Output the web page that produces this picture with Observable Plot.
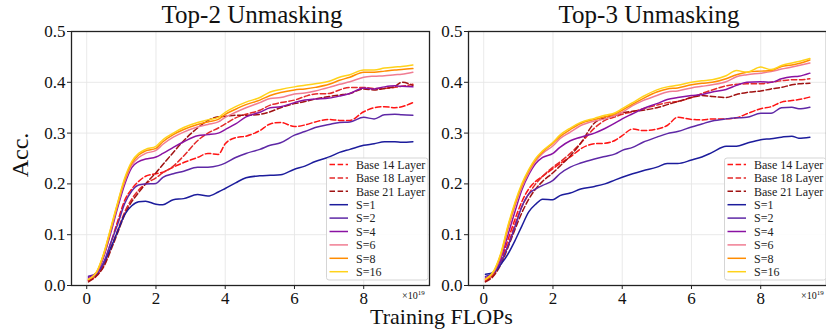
<!DOCTYPE html>
<html><head><meta charset="utf-8">
<script src="https://cdn.jsdelivr.net/npm/d3@7"></script>
<script src="https://cdn.jsdelivr.net/npm/@observablehq/plot@0.6"></script>
<style>
body{margin:0;background:#fff;}
#fig{position:relative;width:826px;height:329px;overflow:hidden;background:#fff;}
#overlay{position:absolute;left:0;top:0;pointer-events:none;}
</style></head><body><div id="fig"></div>
<script>
// ---- data ----
const flops = [0.05,0.3,0.5,0.7,0.9,1.1,1.3,1.5,1.7,2.0,2.2,2.5,2.8,3.2,3.5,3.8,4.0,4.3,4.6,5.0,5.3,5.6,6.0,6.3,6.6,7.0,7.3,7.6,8.0,8.3,8.6,8.9,9.1,9.42];
const xTicks = [0,2,4,6,8];
const yTicks = [0,0.1,0.2,0.3,0.4,0.5];
const seriesNames = ["Base 14 Layer","Base 18 Layer","Base 21 Layer","S=1","S=2","S=4","S=6","S=8","S=16"];
const seriesColors = ["#ff1414","#e42a2a","#a01212","#1c1c9c","#5e28a6","#8a12a2","#f07c92","#ff8c00","#ffd21a"];
const seriesDashed = [true,true,true,false,false,false,false,false,false];
const panelTitles = ["Top-2 Unmasking","Top-3 Unmasking"];

// Top-2
const top2_base14 = [0.010,0.022,0.045,0.085,0.128,0.168,0.190,0.205,0.215,0.220,0.223,0.233,0.242,0.252,0.260,0.258,0.279,0.291,0.294,0.305,0.318,0.321,0.313,0.316,0.322,0.327,0.325,0.325,0.342,0.350,0.352,0.350,0.352,0.360];
const top2_base18 = [0.010,0.020,0.040,0.075,0.110,0.145,0.170,0.188,0.200,0.212,0.222,0.235,0.255,0.285,0.300,0.310,0.318,0.330,0.337,0.345,0.355,0.360,0.365,0.372,0.377,0.378,0.385,0.390,0.390,0.388,0.388,0.390,0.392,0.396];
const top2_base21 = [0.007,0.020,0.038,0.070,0.105,0.140,0.165,0.183,0.200,0.222,0.238,0.262,0.285,0.310,0.325,0.332,0.333,0.335,0.335,0.337,0.342,0.350,0.358,0.362,0.367,0.372,0.375,0.378,0.387,0.385,0.388,0.392,0.400,0.394];
const top2_s1  = [0.013,0.024,0.045,0.075,0.108,0.140,0.157,0.165,0.166,0.160,0.159,0.169,0.171,0.179,0.176,0.184,0.191,0.202,0.212,0.216,0.217,0.218,0.229,0.235,0.244,0.253,0.262,0.268,0.276,0.279,0.283,0.283,0.282,0.283];
const top2_s2  = [0.018,0.025,0.047,0.085,0.122,0.162,0.186,0.198,0.200,0.201,0.213,0.220,0.225,0.233,0.233,0.236,0.241,0.252,0.260,0.268,0.276,0.281,0.296,0.303,0.311,0.317,0.321,0.322,0.331,0.328,0.336,0.337,0.336,0.335];
const top2_s4  = [0.016,0.026,0.058,0.105,0.155,0.200,0.232,0.244,0.249,0.253,0.260,0.272,0.283,0.295,0.297,0.300,0.307,0.318,0.332,0.341,0.350,0.352,0.360,0.365,0.367,0.369,0.373,0.378,0.389,0.387,0.391,0.393,0.392,0.391];
const top2_s6  = [0.013,0.027,0.062,0.110,0.160,0.205,0.237,0.252,0.260,0.266,0.278,0.292,0.302,0.312,0.317,0.322,0.331,0.341,0.350,0.360,0.368,0.370,0.377,0.379,0.383,0.390,0.396,0.401,0.410,0.412,0.413,0.415,0.416,0.420];
const top2_s8  = [0.012,0.028,0.064,0.113,0.163,0.209,0.241,0.257,0.265,0.270,0.283,0.297,0.307,0.317,0.322,0.327,0.337,0.347,0.356,0.365,0.374,0.380,0.385,0.387,0.390,0.396,0.404,0.410,0.420,0.420,0.422,0.424,0.425,0.427];
const top2_s16 = [0.012,0.029,0.065,0.115,0.165,0.212,0.244,0.260,0.268,0.274,0.287,0.300,0.311,0.321,0.326,0.331,0.341,0.352,0.361,0.370,0.381,0.386,0.391,0.394,0.397,0.402,0.410,0.415,0.424,0.424,0.428,0.430,0.431,0.434];

// Top-3
const top3_base14 = [0.008,0.024,0.050,0.090,0.130,0.165,0.190,0.205,0.215,0.230,0.240,0.253,0.269,0.279,0.280,0.286,0.295,0.308,0.305,0.308,0.315,0.331,0.327,0.326,0.328,0.328,0.330,0.338,0.348,0.352,0.361,0.364,0.366,0.371];
const top3_base18 = [0.010,0.022,0.045,0.080,0.120,0.155,0.180,0.200,0.215,0.233,0.243,0.260,0.280,0.310,0.325,0.332,0.337,0.342,0.348,0.355,0.360,0.362,0.370,0.378,0.385,0.393,0.396,0.397,0.397,0.400,0.403,0.405,0.405,0.407];
const top3_base21 = [0.007,0.020,0.042,0.075,0.110,0.143,0.170,0.190,0.205,0.222,0.235,0.255,0.280,0.320,0.330,0.335,0.340,0.343,0.345,0.350,0.356,0.362,0.370,0.374,0.372,0.370,0.376,0.380,0.383,0.387,0.390,0.395,0.397,0.398];
const top3_s1  = [0.022,0.026,0.042,0.062,0.088,0.117,0.145,0.160,0.170,0.169,0.177,0.182,0.190,0.195,0.200,0.208,0.213,0.220,0.226,0.233,0.240,0.240,0.247,0.253,0.262,0.274,0.274,0.280,0.287,0.289,0.292,0.294,0.290,0.292];
const top3_s2  = [0.018,0.026,0.047,0.078,0.115,0.155,0.180,0.190,0.197,0.207,0.220,0.233,0.241,0.249,0.254,0.259,0.266,0.272,0.282,0.292,0.299,0.303,0.312,0.318,0.324,0.328,0.330,0.331,0.339,0.339,0.350,0.351,0.348,0.351];
const top3_s4  = [0.015,0.027,0.055,0.100,0.145,0.188,0.218,0.240,0.252,0.260,0.272,0.285,0.292,0.300,0.309,0.320,0.328,0.338,0.348,0.358,0.366,0.370,0.374,0.376,0.381,0.386,0.394,0.400,0.401,0.400,0.407,0.411,0.412,0.418];
const top3_s6  = [0.013,0.028,0.060,0.110,0.155,0.193,0.222,0.245,0.260,0.275,0.289,0.302,0.315,0.324,0.328,0.335,0.341,0.354,0.364,0.374,0.381,0.383,0.389,0.392,0.395,0.401,0.411,0.415,0.418,0.421,0.426,0.430,0.433,0.438];
const top3_s8  = [0.012,0.029,0.063,0.115,0.160,0.197,0.226,0.248,0.263,0.280,0.293,0.307,0.319,0.327,0.332,0.338,0.345,0.357,0.368,0.381,0.387,0.389,0.395,0.398,0.400,0.407,0.415,0.420,0.422,0.423,0.431,0.434,0.437,0.444];
const top3_s16 = [0.012,0.030,0.065,0.118,0.163,0.200,0.228,0.250,0.265,0.282,0.296,0.310,0.321,0.329,0.335,0.340,0.348,0.360,0.372,0.385,0.391,0.394,0.400,0.403,0.405,0.413,0.423,0.420,0.430,0.425,0.433,0.438,0.441,0.447];

const panels = [
  [top2_base14,top2_base18,top2_base21,top2_s1,top2_s2,top2_s4,top2_s6,top2_s8,top2_s16],
  [top3_base14,top3_base18,top3_base21,top3_s1,top3_s2,top3_s4,top3_s6,top3_s8,top3_s16]
];

// ---- layout ----
const FONT = "Liberation Serif";
const fig = document.getElementById("fig");
const panelLeft = [0, 397];
const W = 430, H = 329, ML = 71, MR = 1, MT = 31, MB = 44;

panels.forEach((vals, p) => {
  const lineMarks = vals.map((arr, i) => {
    const rows = flops.map((x, j) => ({x, y: arr[j]}));
    return Plot.line(rows, {
      x: "x", y: "y",
      stroke: seriesColors[i], strokeWidth: 1.5,
      strokeDasharray: seriesDashed[i] ? "5.5,2.6" : null,
      curve: "monotone-x"
    });
  });
  const chart = Plot.plot({
    width: W, height: H,
    marginLeft: ML, marginRight: MR, marginTop: MT, marginBottom: MB,
    x: {domain: [-0.44, 9.9]},
    y: {domain: [0, 0.5]},
    style: {fontFamily: FONT, fontSize: "17px", color: "#111", background: "transparent", overflow: "visible"},
    marks: [
      Plot.gridX(xTicks, {stroke: "#e6e6e6", strokeOpacity: 1, strokeWidth: 0.9}),
      Plot.gridY(yTicks, {stroke: "#e6e6e6", strokeOpacity: 1, strokeWidth: 0.9}),
      ...lineMarks,
      Plot.frame({stroke: "#222", strokeWidth: 1.3}),
      Plot.axisX(xTicks, {tickSize: 4, tickPadding: 2, tickFormat: d3.format("d"), label: null, stroke: "#222", fill: "#111", fontFamily: FONT, fontSize: 17}),
      Plot.axisY(yTicks, {tickSize: 4, tickPadding: 2, tickFormat: d3.format(".1f"), label: null, stroke: "#222", fill: "#111", fontFamily: FONT, fontSize: 17})
    ]
  });
  chart.style.position = "absolute";
  chart.style.top = "0px";
  chart.style.left = panelLeft[p] + "px";
  chart.style.maxWidth = "none";
  chart.querySelectorAll("text").forEach(t => t.setAttribute("font-family", FONT));
  fig.appendChild(chart);
});

// ---- overlay: titles, labels, legends ----
const svg = d3.select(fig).append("svg").attr("id", "overlay")
  .attr("width", 826).attr("height", 329)
  .attr("font-family", FONT);

const frameL = [71, 468], frameW = 358;
panelTitles.forEach((t, p) => {
  svg.append("text").attr("x", frameL[p] + frameW / 2 + 2).attr("y", 23)
    .attr("font-family", FONT)
    .attr("text-anchor", "middle").attr("font-size", 25).attr("fill", "#111").text(t);
  // offset text x10^19
  const ox = [402, 801][p];
  const ot = svg.append("text").attr("x", ox).attr("y", 299).attr("font-size", 10).attr("font-family", FONT).attr("fill", "#111");
  ot.append("tspan").text("×10");
  ot.append("tspan").attr("dy", -4).attr("font-size", 7).text("19");
  // legend
  const lx = [326, 724][p], ly = 157.5, lw = 101.5, lh = 122;
  const g = svg.append("g");
  g.append("rect").attr("x", lx + 0.5).attr("y", ly + 0.5).attr("width", lw).attr("height", lh)
    .attr("rx", 2.5).attr("fill", "white").attr("fill-opacity", 0.85).attr("stroke", "#d5d5d5").attr("stroke-width", 1);
  seriesNames.forEach((n, i) => {
    const cy = ly + 7 + i * 13.4;
    g.append("line").attr("x1", lx + 3.5).attr("x2", lx + 22).attr("y1", cy).attr("y2", cy)
      .attr("stroke", seriesColors[i]).attr("stroke-width", 1.5)
      .attr("stroke-dasharray", seriesDashed[i] ? "5.5,2.6" : null);
    g.append("text").attr("x", lx + 30).attr("y", cy).attr("dy", "0.35em")
      .attr("font-family", FONT)
      .attr("font-size", 12).attr("fill", "#222").text(n);
  });
});

svg.append("text").attr("x", 441.5).attr("y", 324).attr("text-anchor", "middle")
  .attr("font-family", FONT)
  .attr("font-size", 22).attr("fill", "#111").text("Training FLOPs");
svg.append("text").attr("transform", "translate(28,155) rotate(-90)").attr("text-anchor", "middle")
  .attr("font-family", FONT)
  .attr("font-size", 24).attr("fill", "#111").text("Acc.");
</script></body></html>
